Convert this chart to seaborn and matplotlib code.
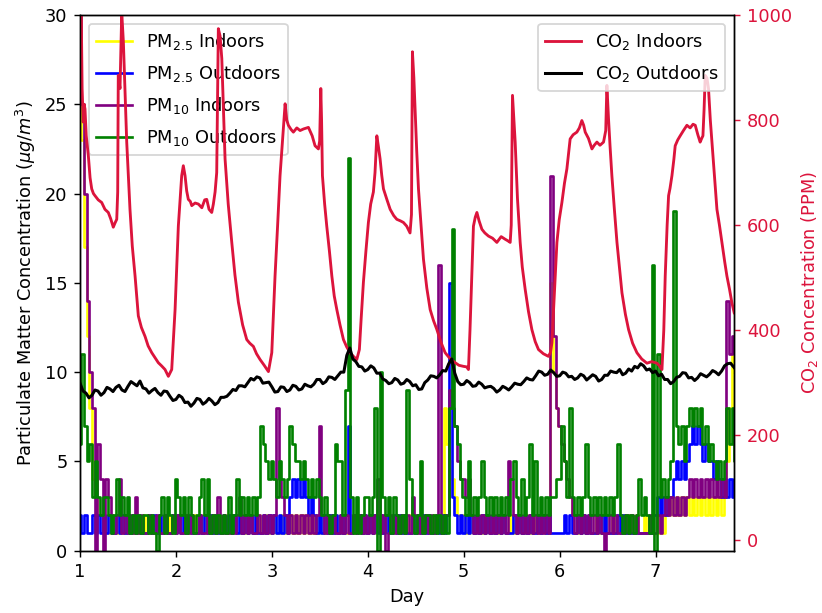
import numpy as np
import pandas as pd
import matplotlib
matplotlib.use("Agg")
import matplotlib.pyplot as plt
import seaborn as sns

# ---------------- CO2 indoors (PPM), irregular timestamps in days ----------------
co2_in_day = [
    1.000, 1.012, 1.022, 1.034, 1.043, 1.052, 1.065, 1.087, 1.105, 1.122, 1.140, 1.156,
    1.190, 1.226, 1.260, 1.295, 1.320, 1.347, 1.365, 1.383, 1.393, 1.399, 1.417, 1.435,
    1.452, 1.470, 1.487, 1.521, 1.545, 1.574, 1.608, 1.640, 1.678, 1.710, 1.748, 1.780,
    1.816, 1.850, 1.886, 1.921, 1.956, 1.991, 2.025, 2.060, 2.077, 2.095, 2.112, 2.129,
    2.150, 2.165, 2.200, 2.234, 2.270, 2.300, 2.321, 2.345, 2.373, 2.390, 2.408, 2.425,
    2.442, 2.460, 2.478, 2.512, 2.545, 2.582, 2.615, 2.651, 2.695, 2.738, 2.770, 2.807,
    2.840, 2.877, 2.920, 2.964, 2.999, 3.033, 3.060, 3.085, 3.110, 3.138, 3.155, 3.172,
    3.200, 3.224, 3.260, 3.294, 3.330, 3.381, 3.420, 3.450, 3.485, 3.498, 3.510, 3.518,
    3.527, 3.550, 3.572, 3.600, 3.625, 3.650, 3.677, 3.710, 3.746, 3.780, 3.815, 3.850,
    3.885, 3.912, 3.930, 3.954, 3.980, 4.006, 4.030, 4.058, 4.075, 4.094, 4.110, 4.128,
    4.145, 4.163, 4.200, 4.233, 4.270, 4.302, 4.340, 4.371, 4.405, 4.440, 4.455, 4.465,
    4.480, 4.493, 4.510, 4.528, 4.555, 4.580, 4.615, 4.650, 4.685, 4.720, 4.760, 4.806,
    4.860, 4.910, 4.950, 4.997, 5.030, 5.049, 5.065, 5.084, 5.101, 5.120, 5.137, 5.160,
    5.189, 5.220, 5.258, 5.300, 5.345, 5.390, 5.432, 5.460, 5.484, 5.495, 5.508, 5.520,
    5.536, 5.560, 5.588, 5.610, 5.640, 5.675, 5.710, 5.745, 5.779, 5.830, 5.883, 5.905,
    5.919, 5.945, 5.971, 5.995, 6.023, 6.050, 6.075, 6.095, 6.109, 6.140, 6.179, 6.205,
    6.231, 6.250, 6.266, 6.300, 6.336, 6.360, 6.388, 6.420, 6.457, 6.480, 6.492, 6.509,
    6.525, 6.544, 6.570, 6.597, 6.625, 6.649, 6.685, 6.718, 6.760, 6.805, 6.855, 6.909,
    6.960, 7.014, 7.040, 7.066, 7.085, 7.100, 7.120, 7.135, 7.150, 7.170, 7.190, 7.204,
    7.230, 7.256, 7.290, 7.326, 7.360, 7.390, 7.413, 7.440, 7.464, 7.480, 7.493, 7.505,
    7.517, 7.535, 7.551, 7.570, 7.587, 7.610, 7.639, 7.665, 7.691, 7.720, 7.743, 7.770,
    7.795, 7.819,
]
co2_in_ppm = [
    1050, 1020, 860, 796, 830, 821, 770, 732, 690, 669, 660, 656,
    648, 643, 630, 624, 612, 596, 604, 611, 663, 885, 860, 1005,
    949, 850, 758, 630, 560, 503, 427, 405, 388, 370, 357, 348,
    338, 332, 325, 312, 325, 439, 598, 694, 713, 694, 665, 649,
    645, 637, 642, 640, 633, 648, 649, 630, 624, 640, 663, 700,
    974, 960, 917, 726, 640, 567, 505, 453, 410, 382, 375, 369,
    355, 344, 333, 321, 357, 503, 600, 694, 760, 831, 800, 790,
    782, 777, 785, 780, 783, 786, 770, 751, 745, 760, 860, 800,
    694, 640, 598, 550, 503, 465, 439, 410, 382, 368, 357, 350,
    344, 363, 420, 491, 550, 605, 640, 663, 700, 770, 750, 726,
    695, 669, 648, 630, 618, 611, 608, 605, 598, 585, 620, 930,
    880, 821, 740, 669, 600, 535, 480, 439, 418, 401, 378, 357,
    345, 338, 333, 331, 330, 325, 400, 503, 598, 615, 624, 608,
    592, 585, 579, 575, 567, 578, 573, 570, 567, 600, 847, 810,
    758, 650, 567, 520, 478, 435, 401, 378, 363, 355, 350, 358,
    376, 470, 567, 610, 643, 680, 707, 740, 764, 772, 777, 785,
    799, 790, 777, 765, 745, 752, 758, 752, 758, 780, 866, 802,
    750, 694, 630, 567, 515, 471, 430, 401, 375, 357, 345, 337,
    340, 337, 332, 325, 400, 503, 600, 656, 670, 694, 725, 751,
    762, 770, 780, 790, 785, 792, 790, 772, 758, 765, 770, 820,
    885, 880, 860, 800, 758, 700, 630, 600, 567, 530, 503, 478,
    452, 433,
]

# ---------------- CO2 outdoors (PPM), sampled every 45 min ----------------
co2_out_ppm = [
    299, 284, 280, 271, 276, 286, 284, 276, 281, 291, 288, 283, 291, 295, 286, 283,
    293, 302, 298, 294, 303, 290, 288, 280, 285, 289, 281, 276, 284, 283, 274, 266,
    268, 276, 272, 262, 263, 255, 261, 270, 268, 259, 263, 270, 265, 258, 262, 272,
    272, 274, 280, 287, 285, 294, 294, 292, 300, 308, 305, 311, 309, 299, 300, 301,
    292, 282, 283, 292, 291, 283, 286, 295, 293, 286, 288, 297, 294, 292, 297, 306,
    306, 298, 302, 311, 310, 306, 313, 320, 320, 352, 366, 345, 340, 331, 330, 322,
    325, 332, 328, 318, 318, 307, 304, 298, 300, 308, 305, 297, 299, 306, 302, 294,
    296, 287, 288, 300, 305, 313, 312, 309, 315, 323, 322, 336, 345, 318, 302, 296,
    297, 304, 300, 293, 294, 301, 297, 290, 292, 293, 289, 282, 286, 293, 290, 286,
    292, 299, 297, 296, 302, 309, 306, 305, 313, 322, 320, 314, 316, 324, 319, 312,
    313, 320, 318, 311, 312, 306, 309, 316, 313, 305, 310, 315, 312, 303, 306, 314,
    314, 322, 320, 319, 325, 315, 318, 326, 322, 331, 328, 336, 332, 324, 326, 319,
    322, 313, 316, 306, 306, 298, 302, 310, 312, 319, 318, 309, 310, 304, 309, 317,
    314, 311, 316, 323, 320, 315, 322, 332, 336, 337, 330, 323, 328,
]

# ---------------- Particulate matter (ug/m3), sampled every 40 min ----------------
pm25_in = [
    30, 23, 17, 12, 8, 4, 3, 2, 2, 1, 2, 1, 2, 1, 1, 2, 1, 1, 2, 1, 1, 2, 1, 1, 2, 1, 1, 2, 1, 1, 2, 1, 1, 2, 1, 1,
    1, 2, 1, 1, 2, 1, 1, 2, 1, 1, 2, 1, 1, 2, 1, 1, 2, 1, 1, 2, 1, 1, 2, 1, 1, 2, 1, 1, 2, 1, 1, 2, 1, 1, 2, 1,
    1, 2, 1, 1, 2, 1, 1, 2, 1, 2, 1, 2, 1, 2, 1, 2, 1, 1, 2, 1, 1, 2, 1, 1, 2, 1, 1, 2, 1, 1, 2, 1, 1, 2, 1, 1,
    1, 2, 1, 1, 2, 1, 1, 2, 1, 1, 2, 1, 1, 2, 1, 1, 2, 1, 1, 2, 1, 1, 2, 1, 1, 2, 1, 2, 1, 8, 6, 5, 4, 3, 2, 2,
    2, 1, 1, 2, 1, 1, 2, 1, 1, 2, 1, 1, 2, 1, 1, 2, 1, 1, 2, 1, 1, 2, 1, 1, 2, 1, 1, 2, 1, 1, 2, 1, 1, 15, 10, 8,
    7, 6, 5, 4, 3, 2, 2, 1, 1, 2, 1, 2, 1, 1, 2, 1, 1, 2, 1, 1, 2, 1, 1, 2, 1, 1, 2, 1, 1, 2, 1, 1, 2, 1, 1, 2,
    2, 1, 2, 1, 2, 2, 3, 2, 3, 2, 3, 2, 3, 2, 3, 2, 3, 2, 3, 2, 3, 2, 3, 2, 3, 2, 3, 5, 8, 11, 10,
]
pm25_out = [
    2, 1, 2, 1, 1, 2, 1, 2, 1, 2, 1, 2, 1, 1, 2, 1, 2, 1, 2, 1, 2, 1, 2, 1, 1, 1, 2, 1, 2, 1, 2, 1, 2, 1, 1, 2,
    1, 2, 1, 2, 1, 2, 1, 1, 1, 2, 1, 2, 1, 2, 1, 2, 1, 1, 2, 1, 2, 1, 2, 1, 2, 1, 2, 1, 2, 1, 2, 1, 1, 2, 1, 2,
    1, 2, 1, 2, 1, 2, 1, 3, 4, 3, 4, 3, 4, 3, 2, 3, 2, 1, 2, 1, 2, 1, 2, 1, 2, 1, 2, 1, 2, 7, 1, 2, 1, 2, 1, 2,
    1, 2, 1, 2, 1, 2, 1, 2, 1, 1, 2, 1, 2, 1, 2, 1, 1, 2, 1, 2, 1, 2, 1, 2, 1, 1, 2, 1, 2, 1, 2, 15, 3, 2, 1, 2,
    1, 2, 1, 2, 1, 2, 1, 2, 1, 2, 1, 2, 1, 2, 1, 2, 1, 1, 1, 2, 1, 2, 1, 2, 1, 2, 1, 1, 2, 1, 2, 1, 2, 1, 1, 1,
    1, 1, 2, 1, 2, 1, 1, 2, 1, 2, 1, 2, 1, 1, 1, 2, 1, 2, 1, 1, 1, 1, 2, 1, 2, 1, 1, 1, 1, 1, 1, 1, 1, 1, 1, 2,
    2, 3, 2, 3, 2, 3, 3, 4, 5, 4, 5, 4, 5, 6, 7, 6, 7, 6, 5, 6, 5, 5, 4, 5, 4, 3, 4, 3, 4, 3, 4,
]
pm10_in = [
    34, 25, 20, 14, 10, 8, 0, 6, 4, 0, 4, 3, 2, 1, 2, 4, 1, 2, 1, 2, 1, 3, 1, 2, 1, 1, 2, 1, 1, 2, 1, 1, 2, 1, 1, 2,
    1, 2, 1, 1, 2, 1, 2, 1, 1, 2, 1, 1, 2, 1, 2, 1, 3, 1, 2, 1, 1, 2, 1, 2, 3, 1, 2, 1, 2, 1, 1, 2, 1, 2, 1, 2,
    1, 2, 8, 4, 3, 2, 1, 2, 1, 2, 1, 2, 1, 2, 1, 2, 1, 2, 7, 2, 1, 2, 1, 2, 1, 1, 2, 1, 2, 1, 1, 2, 1, 2, 1, 2,
    1, 2, 1, 2, 4, 1, 2, 0, 1, 2, 1, 2, 1, 2, 1, 2, 1, 3, 2, 1, 2, 1, 2, 1, 2, 1, 2, 16, 1, 2, 2, 9, 8, 7, 5, 4,
    4, 3, 4, 2, 1, 2, 1, 2, 1, 2, 1, 2, 1, 2, 1, 2, 1, 5, 4, 2, 1, 2, 1, 2, 1, 2, 1, 2, 1, 2, 1, 2, 1, 21, 12, 8,
    7, 6, 5, 4, 3, 2, 1, 2, 1, 2, 1, 2, 1, 2, 1, 2, 1, 0, 1, 2, 1, 2, 1, 1, 1, 2, 1, 2, 1, 2, 1, 1, 1, 1, 2, 1,
    1, 2, 1, 2, 3, 2, 3, 2, 3, 2, 3, 2, 3, 4, 3, 4, 3, 4, 3, 4, 3, 4, 3, 4, 3, 4, 3, 14, 11, 12, 11,
]
pm10_out = [
    6, 11, 7, 5, 6, 3, 5, 3, 2, 3, 3, 2, 1, 2, 4, 2, 3, 2, 3, 1, 2, 1, 2, 1, 2, 2, 1, 2, 1, 0, 2, 3, 1, 3, 2, 1,
    4, 3, 2, 3, 1, 3, 2, 1, 2, 3, 4, 2, 4, 1, 2, 1, 2, 1, 2, 1, 3, 1, 2, 4, 2, 3, 2, 3, 2, 3, 2, 3, 7, 6, 5, 4,
    5, 4, 3, 5, 4, 3, 4, 7, 6, 5, 5, 4, 5, 4, 3, 4, 3, 4, 3, 2, 3, 2, 1, 2, 6, 5, 5, 2, 9, 22, 3, 1, 3, 1, 2, 3,
    3, 2, 3, 8, 0, 10, 3, 2, 3, 1, 3, 2, 1, 2, 1, 9, 4, 2, 1, 2, 5, 1, 2, 2, 1, 2, 1, 2, 1, 2, 1, 8, 18, 7, 6, 4,
    3, 2, 5, 2, 3, 2, 3, 5, 3, 2, 3, 2, 3, 2, 3, 2, 3, 2, 4, 5, 3, 2, 4, 2, 3, 6, 2, 5, 2, 3, 2, 3, 2, 3, 3, 4,
    4, 7, 5, 3, 8, 3, 2, 3, 2, 3, 6, 3, 2, 3, 2, 3, 2, 3, 2, 3, 2, 3, 6, 2, 1, 2, 1, 2, 1, 2, 4, 2, 3, 2, 1, 16,
    0, 11, 3, 4, 3, 4, 5, 19, 7, 6, 7, 5, 7, 8, 7, 8, 7, 8, 6, 7, 5, 6, 5, 4, 5, 4, 5, 8, 6, 8, 5,
]

# sample clocks
pm_day = 1 + np.arange(len(pm10_out)) / 36.0
co2_out_day = 1 + np.arange(len(co2_out_ppm)) / 32.0

pm = pd.DataFrame({"day": pm_day, "pm25_in": pm25_in, "pm25_out": pm25_out,
                   "pm10_in": pm10_in, "pm10_out": pm10_out})

fig = plt.figure(figsize=(822 / 128, 613 / 128), dpi=128)
ax = fig.add_axes([80 / 822, 1 - 550.7 / 613, (734.3 - 80) / 822, (550.7 - 15) / 613])

pm_series = [
    ("pm25_in", "yellow", "PM$_{2.5}$ Indoors"),
    ("pm25_out", "blue", "PM$_{2.5}$ Outdoors"),
    ("pm10_in", "purple", "PM$_{10}$ Indoors"),
    ("pm10_out", "green", "PM$_{10}$ Outdoors"),
]
for col, color, label in pm_series:
    sns.lineplot(data=pm, x="day", y=col, ax=ax, color=color, label=label,
                 estimator=None, sort=False, linewidth=1.5, drawstyle="steps-mid")

ax.set_xlim(1, 7.82)
ax.set_ylim(0, 30)
ax.set_xlabel("Day")
ax.set_ylabel(r"Particulate Matter Concentration ($\mu g/m^3$)")
ax.legend(loc="upper left", labelspacing=0.62)

ax2 = ax.twinx()
sns.lineplot(x=co2_in_day, y=co2_in_ppm, ax=ax2, color="crimson",
             label="CO$_2$ Indoors", estimator=None, sort=False, linewidth=1.6)
sns.lineplot(x=co2_out_day, y=co2_out_ppm, ax=ax2, color="black",
             label="CO$_2$ Outdoors", estimator=None, sort=False, linewidth=1.7)
ax2.set_ylim(-20, 1000)
ax2.set_xlim(1, 7.82)
ax2.set_ylabel("CO$_2$ Concentration (PPM)", color="crimson")
ax2.tick_params(axis="y", colors="crimson")
ax2.legend(loc="upper right", labelspacing=0.62)

fig.savefig("out.png", dpi=128)
